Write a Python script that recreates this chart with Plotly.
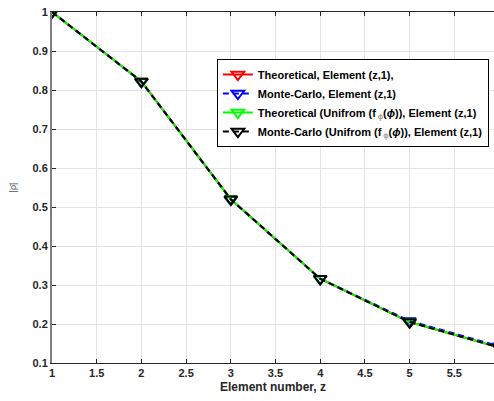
import plotly.graph_objects as go

element = [1, 2, 3, 4, 5, 6]
theoretical = [1.0, 0.822, 0.520, 0.316, 0.205, 0.140]
monte_carlo = [1.0, 0.821, 0.519, 0.316, 0.208, 0.143]
theoretical_unif = [1.0, 0.822, 0.520, 0.316, 0.205, 0.140]
monte_carlo_unif = [1.0, 0.822, 0.520, 0.316, 0.205, 0.140]
x_ticks = [1, 1.5, 2, 2.5, 3, 3.5, 4, 4.5, 5, 5.5]
x_tick_labels = ["1", "1.5", "2", "2.5", "3", "3.5", "4", "4.5", "5", "5.5"]
y_ticks = [0.1, 0.2, 0.3, 0.4, 0.5, 0.6, 0.7, 0.8, 0.9, 1.0]
y_tick_labels = ["0.1", "0.2", "0.3", "0.4", "0.5", "0.6", "0.7", "0.8", "0.9", "1"]

names = [
    "Theoretical, Element (z,1),",
    "Monte-Carlo, Element (z,1)",
    "Theoretical (Unifrom (f<sub><span style='color:#999;font-size:7px'> ϕ</span></sub>(<i>ϕ</i>)), Element (z,1)",
    "Monte-Carlo (Unifrom (f<sub><span style='color:#999;font-size:7px'> ϕ</span></sub>(<i>ϕ</i>)), Element (z,1)",
]
series = [theoretical, monte_carlo, theoretical_unif, monte_carlo_unif]
colors = ["#ff0000", "#0000ff", "#00ff00", "#000000"]
dashes = ["solid", "6px,4px", "solid", "6px,4px"]

fig = go.Figure()
for name, ys, c, d in zip(names, series, colors, dashes):
    fig.add_trace(go.Scatter(
        x=element, y=ys, name=name, mode="lines+markers",
        line=dict(color=c, width=2, dash=d),
        marker=dict(symbol="triangle-down-open", size=11, color=c,
                    line=dict(color=c, width=2)),
    ))

axis_font = dict(family="Liberation Sans", size=11, color="#262626", weight="bold")

fig.update_layout(
    width=494, height=401,
    margin=dict(l=52, r=0, t=12, b=38, autoexpand=False),
    paper_bgcolor="white", plot_bgcolor="white",
    font=dict(family="Liberation Sans", size=11, color="#000000", weight="bold"),
    showlegend=True,
    legend=dict(
        x=0.373, y=0.866, xanchor="left", yanchor="top",
        bgcolor="white", bordercolor="#000000", borderwidth=1,
        font=dict(family="Liberation Sans", size=11, color="#000000", weight="bold"),
        itemwidth=30, tracegroupgap=0,
    ),
    xaxis=dict(
        range=[1, 5.944], tickmode="array", tickvals=x_ticks, ticktext=x_tick_labels,
        showgrid=True, gridcolor="#e3e3e3", gridwidth=1,
        showline=True, linecolor="#262626", linewidth=1, mirror="ticks",
        ticks="inside", ticklen=4, tickcolor="#262626", tickangle=0,
        tickfont=axis_font, zeroline=False, automargin=False,
        title=dict(text="Element number, z", standoff=4,
                   font=dict(family="Liberation Sans", size=12, color="#262626", weight="bold")),
    ),
    yaxis=dict(
        range=[0.1, 1.0], tickmode="array", tickvals=y_ticks, ticktext=y_tick_labels,
        showgrid=True, gridcolor="#e3e3e3", gridwidth=1,
        showline=True, linecolor="#7f7f7f", linewidth=2, mirror=False,
        ticks="inside", ticklen=4, tickcolor="#262626",
        tickfont=axis_font, zeroline=False, automargin=False,
        title=dict(text="|ρ̄|", standoff=14,
                   font=dict(family="Liberation Sans", size=9, color="#555555", weight="normal")),
    ),
)

fig.write_html("out.html")
